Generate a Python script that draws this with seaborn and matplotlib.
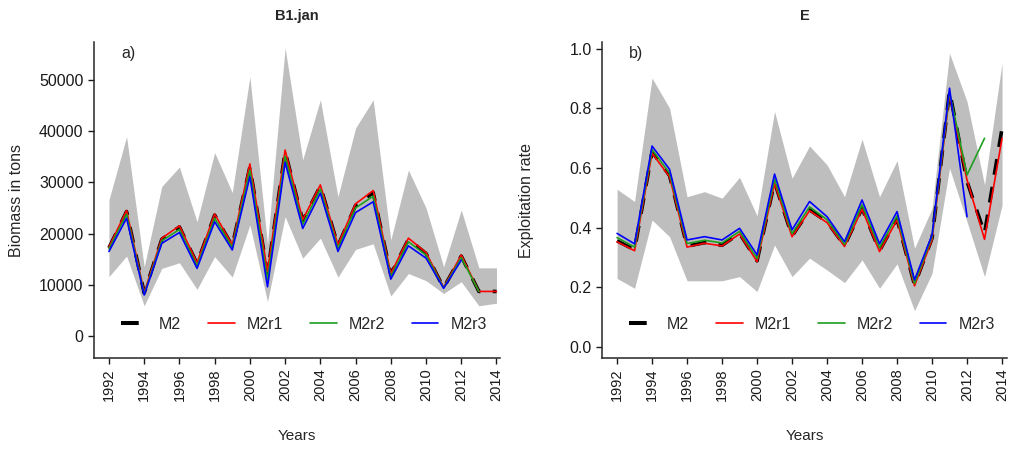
import numpy as np
import pandas as pd
import matplotlib
matplotlib.use("Agg")
import matplotlib.pyplot as plt
from matplotlib.lines import Line2D
import seaborn as sns

# ---- data -------------------------------------------------------------
years = list(range(1992, 2015))
year_ticks = list(range(1992, 2015, 2))

# Biomass at 1 January (tons)
biomass_upper = [26600, 38900, 13500, 29200, 33000, 22300, 35800, 28000, 50600, 18000,
                 56200, 34400, 46100, 27200, 40600, 46100, 18750, 32400, 25000, 13500,
                 24600, 13300, 13300]
biomass_lower = [11600, 15600, 5900, 13200, 14300, 9100, 15500, 11500, 21700, 6700,
                 23300, 15200, 19100, 11500, 16900, 18000, 7800, 12200, 10800, 8300,
                 10600, 5900, 6400]
biomass_m2 = [17200, 24300, 8400, 18900, 21300, 14100, 23600, 17600, 33000, 12200,
              36000, 22500, 29300, 17600, 25500, 28000, 12000, 18900, 16100, 9400,
              15600, 8700, 8700]
biomass_m2r1 = [17400, 24500, 8500, 19100, 21500, 14300, 23800, 17800, 33600, 12600,
                36300, 22700, 29500, 17800, 25800, 28400, 12200, 19100, 16300, 9500,
                15800, 8700, 8700]
biomass_m2r2 = [17000, 23800, 8200, 18600, 20800, 13700, 23000, 17300, 32400, 11000,
                35100, 21800, 28700, 17100, 25000, 27300, 11600, 18400, 15800, 9400,
                15300, 8700]
biomass_m2r3 = [16500, 23000, 8000, 18100, 20200, 13200, 22300, 16800, 31100, 9600,
                33900, 21000, 27900, 16500, 24100, 26200, 11100, 17600, 15200, 9300,
                14800]

# Exploitation rate
expl_upper = [0.529, 0.488, 0.902, 0.801, 0.504, 0.521, 0.499, 0.569, 0.44, 0.79,
              0.566, 0.674, 0.611, 0.504, 0.697, 0.504, 0.625, 0.331, 0.465, 0.985,
              0.823, 0.544, 0.952]
expl_lower = [0.23, 0.197, 0.426, 0.37, 0.222, 0.222, 0.222, 0.236, 0.186, 0.342,
              0.236, 0.298, 0.258, 0.216, 0.292, 0.197, 0.279, 0.122, 0.247, 0.6,
              0.42, 0.236, 0.475]
expl_m2 = [0.356, 0.326, 0.655, 0.575, 0.338, 0.35, 0.341, 0.381, 0.289, 0.553,
           0.372, 0.46, 0.42, 0.34, 0.465, 0.323, 0.43, 0.208, 0.365, 0.858,
           0.555, 0.381, 0.733]
expl_m2r1 = [0.353, 0.323, 0.65, 0.571, 0.335, 0.348, 0.339, 0.379, 0.286, 0.549,
             0.37, 0.457, 0.417, 0.337, 0.462, 0.32, 0.426, 0.205, 0.36, 0.846,
             0.56, 0.361, 0.70]
expl_m2r2 = [0.367, 0.335, 0.662, 0.583, 0.347, 0.358, 0.349, 0.388, 0.297, 0.563,
             0.38, 0.47, 0.427, 0.344, 0.477, 0.333, 0.44, 0.213, 0.37, 0.855,
             0.577, 0.70]
expl_m2r3 = [0.381, 0.346, 0.674, 0.596, 0.359, 0.37, 0.359, 0.398, 0.309, 0.58,
             0.393, 0.488, 0.437, 0.353, 0.493, 0.346, 0.454, 0.225, 0.376, 0.868,
             0.437]

runs = ["M2", "M2r1", "M2r2", "M2r3"]
run_colors = {"M2": "black", "M2r1": "#FF0000", "M2r2": "#1F9E1F", "M2r3": "#0000FF"}


def long_frame(series):
    rows = []
    for run, vals in zip(runs, series):
        for yr, v in zip(years, vals):
            rows.append({"Year": yr, "value": v, "run": run})
    return pd.DataFrame(rows)


biomass_df = long_frame([biomass_m2, biomass_m2r1, biomass_m2r2, biomass_m2r3])
expl_df = long_frame([expl_m2, expl_m2r1, expl_m2r2, expl_m2r3])

# ---- style ------------------------------------------------------------
sns.set_style("ticks")
plt.rcParams["font.family"] = ["Liberation Sans", "DejaVu Sans"]
plt.rcParams["font.size"] = 10
plt.rcParams["axes.linewidth"] = 1.1
plt.rcParams["xtick.major.width"] = 1.0
plt.rcParams["ytick.major.width"] = 1.0
plt.rcParams["xtick.major.size"] = 4
plt.rcParams["ytick.major.size"] = 4
plt.rcParams["xtick.color"] = "#1a1a1a"
plt.rcParams["ytick.color"] = "#1a1a1a"

fig = plt.figure(figsize=(10.14, 4.5), dpi=100)
ax_b = fig.add_axes([0.0927, 0.2044, 0.4004, 0.7023])
ax_e = fig.add_axes([0.5937, 0.2044, 0.3995, 0.7023])

M2_DASH = (0, (4.4, 3.4))


def draw_panel(ax, df, upper, lower, title, tag, ylabel, ylim, yticks, yticklabels, xlim):
    ax.fill_between(years, lower, upper, color="#BEBEBE", linewidth=0, zorder=1)
    for run in runs:
        sub = df[df["run"] == run]
        is_m2 = run == "M2"
        sns.lineplot(data=sub, x="Year", y="value", ax=ax, color=run_colors[run],
                     linewidth=2.6 if is_m2 else 1.2, legend=False,
                     linestyle=M2_DASH if is_m2 else "-", zorder=2 if is_m2 else 3)
    ax.set_xlim(*xlim)
    ax.set_ylim(*ylim)
    ax.set_xticks(year_ticks)
    ax.set_xticklabels([str(y) for y in year_ticks], rotation=90, fontsize=10.5)
    ax.set_yticks(yticks)
    ax.set_yticklabels(yticklabels, fontsize=11.5)
    ax.set_title(title, fontweight="bold", fontsize=10.5, pad=16)
    ax.set_xlabel("Years", fontsize=11)
    ax.set_ylabel(ylabel, fontsize=11.5)
    ax.xaxis.set_label_coords(0.5, -0.226)
    ax.text(0.084, 0.962, tag, transform=ax.transAxes, ha="center", va="center",
            fontsize=11.5)
    sns.despine(ax=ax)

    handles = []
    for run in runs:
        is_m2 = run == "M2"
        handles.append(Line2D([], [], color=run_colors[run],
                              linewidth=2.9 if is_m2 else 1.2,
                              linestyle=M2_DASH if is_m2 else "-"))
    ax.legend(handles, runs, loc="center left", bbox_to_anchor=(0.066, 0.106),
              ncol=4, frameon=False, fontsize=11.5, handlelength=1.65,
              handletextpad=0.75, columnspacing=1.7, borderpad=0, borderaxespad=0)


draw_panel(ax_b, biomass_df, biomass_upper, biomass_lower, "B1.jan", "a)",
           "Biomass in tons", (-4300, 57400),
           [0, 10000, 20000, 30000, 40000, 50000],
           ["0", "10000", "20000", "30000", "40000", "50000"],
           (1991.15, 2014.2))
ax_b.yaxis.set_label_coords(-0.172, 0.5)

draw_panel(ax_e, expl_df, expl_upper, expl_lower, "E", "b)",
           "Exploitation rate", (-0.037, 1.023),
           [0.0, 0.2, 0.4, 0.6, 0.8, 1.0],
           ["0.0", "0.2", "0.4", "0.6", "0.8", "1.0"],
           (1991.14, 2014.29))
ax_e.yaxis.set_label_coords(-0.168, 0.5)

fig.savefig("out.png", dpi=100)
